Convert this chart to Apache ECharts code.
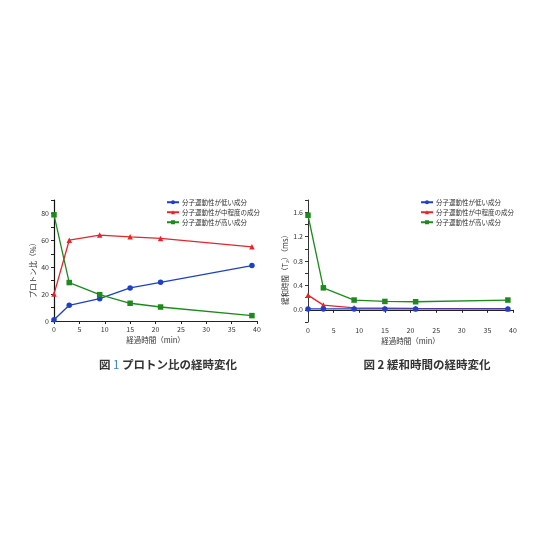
<!DOCTYPE html>
<html><head><meta charset="utf-8">
<script src="https://cdn.jsdelivr.net/npm/echarts@6/dist/echarts.min.js"></script>
<style>html,body{margin:0;padding:0;background:#fff}#c{width:560px;height:560px}</style>
</head><body><div id="c"></div>
<script>
const times = [0, 3, 9, 15, 21, 39];
const seriesNames = ['分子運動性が低い成分', '分子運動性が中程度の成分', '分子運動性が高い成分'];
// Fig 1: proton ratio (%)
const ratioLow = [1, 11.7, 16.6, 24.6, 28.8, 41.2];
const ratioMid = [20, 60.1, 63.9, 62.6, 61.4, 55.2];
const ratioHigh = [79, 28.6, 19.6, 13.2, 10.4, 4];
// Fig 2: relaxation time T2 (ms)
const t2Low = [0.015, 0.015, 0.015, 0.015, 0.015, 0.015];
const t2Mid = [0.24, 0.077, 0.033, 0.027, 0.022, 0.018];
const t2High = [1.55, 0.36, 0.16, 0.137, 0.132, 0.16];

const colors = ['#1f3fc4', '#e3262b', '#1d8a1d'];
const symbols = ['circle', 'triangle', 'rect'];
const FONT = '"Noto Sans CJK JP", sans-serif';

function pairs(ys){ return times.map((t,i)=>[t, ys[i]]); }

const chart = echarts.init(document.getElementById('c'));
const axisLine = {lineStyle:{color:'#222', width:1}};
const lbl = {color:'#333', fontSize:7, fontFamily:FONT};

function xAxis(idx){
  return {type:'value', gridIndex:idx, min:0, max:40, interval:5,
    axisLine:axisLine, axisTick:{show:true, length:3, lineStyle:{color:'#222'}},
    splitLine:{show:false}, axisLabel:Object.assign({margin:5}, lbl),
    name:'経過時間（min）', nameLocation:'middle', nameGap:15,
    nameTextStyle:{color:'#333', fontSize:7.5, fontFamily:FONT}};
}

const series = [];
const data1 = [ratioLow, ratioMid, ratioHigh];
const data2 = [t2Low, t2Mid, t2High];
for (let g=0; g<2; g++){
  const d = g===0 ? data1 : data2;
  for (let s=0; s<3; s++){
    series.push({type:'line', name:seriesNames[s], xAxisIndex:g, yAxisIndex:g,
      data:pairs(d[s]), symbol:symbols[s], symbolSize: 5.5,
      showSymbol:true, color:colors[s], lineStyle:{width:1.3, color:colors[s]},
      itemStyle:{color:colors[s]}, z: 2 + (g===0 ? s : (2-s)), animation:false});
  }
}

chart.setOption({
  animation:false,
  textStyle:{fontFamily:FONT},
  title:[
    {text:'図 {n|1} プロトン比の経時変化', left:163, textAlign:'center', top:354,
     textStyle:{fontSize:11.5, fontWeight:'bold', color:'#333', fontFamily:FONT,
       rich:{n:{fontSize:11.5, fontWeight:'normal', color:'#3b86c4', fontFamily:FONT}}}},
    {text:'図 2 緩和時間の経時変化', left:422, textAlign:'center', top:354,
     textStyle:{fontSize:11.5, fontWeight:'bold', color:'#333', fontFamily:FONT}}
  ],
  legend:[
    {left:161, top:194, orient:'vertical', itemGap:3.5, itemWidth:12, itemHeight:5,
     textStyle:{fontSize:6.5, color:'#333', fontFamily:FONT, padding:[0,0,0,-2]}, data:seriesNames},
    {left:415, top:194, orient:'vertical', itemGap:3.5, itemWidth:12, itemHeight:5,
     textStyle:{fontSize:6.5, color:'#333', fontFamily:FONT, padding:[0,0,0,-2]}, data:seriesNames}
  ],
  grid:[
    {left:54, top:200, width:203, height:121},
    {left:308, top:200, width:205, height:122}
  ],
  xAxis:[xAxis(0), xAxis(1)],
  yAxis:[
    {type:'value', gridIndex:0, min:0, max:90, interval:10,
     axisLine:{show:true, lineStyle:{color:'#111', width:1.2}},
     axisTick:{show:true, length:3, lineStyle:{color:'#222'}},
     splitLine:{show:false},
     axisLabel:Object.assign({margin:5, formatter:v=> (Math.round(v)%20===0 && v<90) ? String(v) : ''}, lbl),
     name:'プロトン比（%）', nameLocation:'middle', nameGap:15, nameRotate:90,
     nameTextStyle:{color:'#333', fontSize:7.5, fontFamily:FONT, padding:[0,0,0,-16]}},
    {type:'value', gridIndex:1, min:-0.2, max:1.8, interval:0.2,
     axisLine:{show:true, lineStyle:{color:'#333', width:1}},
     axisTick:{show:true, length:3, lineStyle:{color:'#333'}},
     splitLine:{show:false},
     axisLabel:Object.assign({margin:5, formatter:v=>{const k=Math.round(v/0.2); return (k%2===0 && k>=0 && k<9) ? (k*0.2).toFixed(1) : '';}}, lbl),
     name:'緩和時間（T₂）（ms）', nameLocation:'middle', nameGap:17, nameRotate:90,
     nameTextStyle:{color:'#333', fontSize:7.5, fontFamily:FONT, padding:[0,0,0,-14]}}
  ],
  series:series
});
</script></body></html>
